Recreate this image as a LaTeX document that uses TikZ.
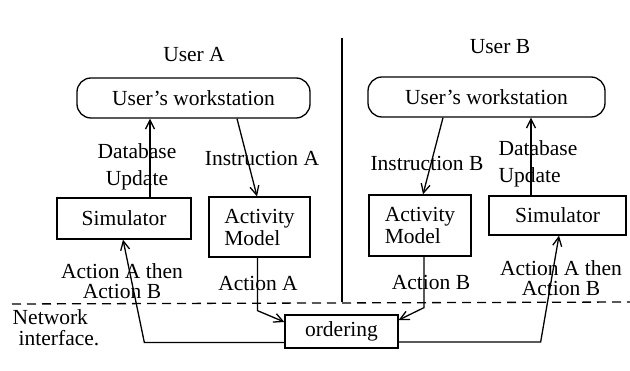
\documentclass[tikz,border=0pt]{standalone}
\usepackage{fontspec}
\setmainfont{Liberation Serif}
\usetikzlibrary{arrows.meta}
\begin{document}
\begin{tikzpicture}[x=1pt,y=-1pt,
  line width=1.3pt,
  every node/.style={font=\fontsize{21.5}{24}\selectfont, inner sep=0pt},
  station/.style={draw, rounded corners=14pt, minimum height=40pt},
  unit/.style={draw, rectangle, align=left},
  lbl/.style={align=center},
  arr/.style={-{Straight Barb[length=9pt,width=9pt,line width=1.3pt]}},
  sep/.style={line width=1.3pt, dash pattern=on 9pt off 6pt}]
\useasboundingbox (0,0) rectangle (630,371);
\fill[white] (0,0) rectangle (630,371);

% column headings and the separator between the two users
\node (userA) at (194,55) {User A};
\node (userB) at (500,47) {User B};
\draw (342,38) -- (342,302);
\draw[sep] (12,304) -- (630,302);

% workstations
\node[station, minimum width=233pt] (wsA) at (193.5,98) {User's workstation};
\node[station, minimum width=237pt] (wsB) at (486.5,97) {User's workstation};

% simulators and activity models
\node[unit, minimum width=134pt, minimum height=41pt] (simA) at (124,218.5) {Simulator};
\node[unit, minimum width=101pt, minimum height=60pt] (actA) at (259.5,227) {Activity\\[-2pt]Model};
\node[unit, minimum width=102pt, minimum height=61pt] (actB) at (420,225.5) {Activity\\[-2pt]Model};
\node[unit, minimum width=137pt, minimum height=39pt] (simB) at (557.5,215.5) {Simulator};

% ordering unit on the network interface
\node[unit, minimum width=113pt, minimum height=33pt] (ord) at (341.5,331.5) {ordering};

% user A connectors
\draw[arr] ([xshift=26pt]simA.north) -- ([xshift=26pt]simA.north |- wsA.south);
\draw[arr] ([xshift=43.5pt]wsA.south) -- ([xshift=-2.5pt]actA.north);
\draw[arr] ([xshift=-2pt]actA.south) -- ++(0,53) -- ([yshift=9.5pt]ord.west);
\draw[arr] ([yshift=-11pt]ord.west) -- ++(-140,0) -- ([xshift=-1pt]simA.south);

% user B connectors
\draw[arr] ([xshift=-43.5pt]wsB.south) -- ([xshift=3pt]actB.north);
\draw[arr] ([xshift=-26.5pt]simB.north) -- ([xshift=-26.5pt]simB.north |- wsB.south);
\draw[arr] ([xshift=4pt]actB.south) -- ++(0,51) -- ([yshift=11.5pt]ord.east);
\draw[arr] ([yshift=-10.5pt]ord.east) -- ++(142,0) -- ([xshift=1.5pt]simB.south);

% connector labels
\node[lbl, font=\fontsize{21.5}{27}\selectfont] (dbA) at (137,166.5) {Database\\Update};
\node (instrA) at (262,158) {Instruction A};
\node (instrB) at (427,163) {Instruction B};
\node[align=left, font=\fontsize{21.5}{27}\selectfont] (dbB) at (538,163.5) {Database\\Update};
\node[lbl, font=\fontsize{21.5}{20.5}\selectfont] (seqA) at (122,281) {Action A then\\Action B};
\node (actionA) at (258,283) {Action A};
\node (actionB) at (431,282) {Action B};
\node[lbl, font=\fontsize{21.5}{20.5}\selectfont] (seqB) at (561,278) {Action A then\\Action B};
\node[align=left, font=\fontsize{21.5}{20.5}\selectfont] (net) at (56,327.5) {Network\\\hspace*{6pt}interface.};
\end{tikzpicture}
\end{document}
